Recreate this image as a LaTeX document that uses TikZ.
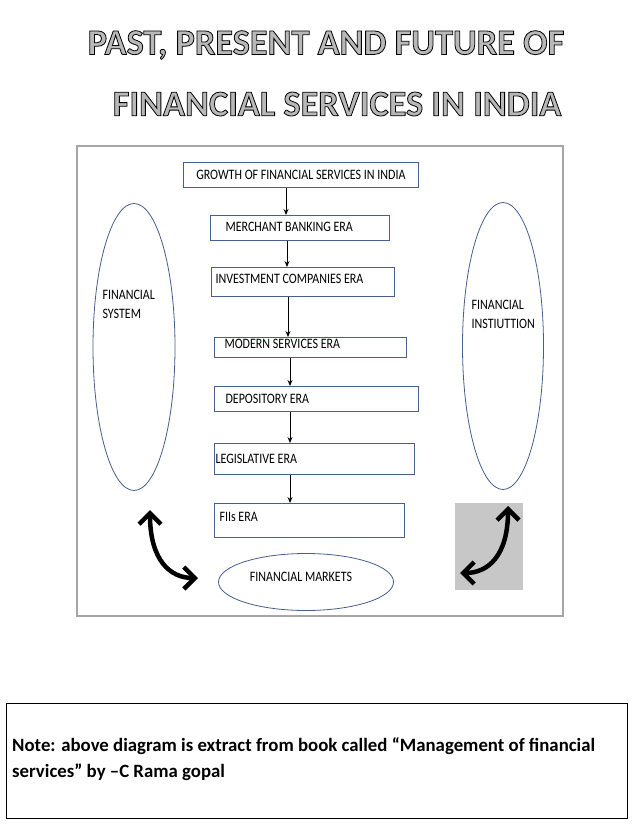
\documentclass[tikz,border=0pt]{standalone}
\usepackage{fontspec}
\setmainfont{Carlito}
\usetikzlibrary{shapes.geometric,arrows.meta}
\definecolor{edge}{RGB}{70,95,140}
\newcommand{\outl}[1]{\special{pdf:code q 2 Tr 0.8 w 0 G 0.72 g}#1\special{pdf:code Q}}
\begin{document}
\begin{tikzpicture}[x=1pt,y=-1pt,
  era/.style={draw=edge, line width=0.8pt, anchor=north west, inner sep=0pt},
  lab/.style={font=\fontsize{12}{14}\selectfont, yscale=1.2},
  oval/.style={draw=edge, line width=0.8pt, ellipse, inner sep=0pt},
  flow/.style={-{Stealth[length=6pt,width=5pt]}, line width=0.9pt},
  big/.style={{Straight Barb[length=11pt,width=22pt,line width=4.5pt]}-{Straight Barb[length=11pt,width=22pt,line width=4.5pt]}, line width=4.5pt}]
\useasboundingbox (0,0) rectangle (638,826);
\fill[white] (0,0) rectangle (638,826);
\node (t1) at (326,45) {\fontsize{36.3}{40}\selectfont\bfseries\outl{PAST, PRESENT AND FUTURE OF}};
\node (t2) at (337,104) {\fontsize{36.3}{40}\selectfont\bfseries\outl{FINANCIAL SERVICES IN INDIA}};
\draw[black!35, line width=1.5pt] (77,146) rectangle (563,616);
\node[era, minimum width=235, minimum height=25] (b1) at (183,162) {};
\node[lab] (l1) at (b1.center) {GROWTH OF FINANCIAL SERVICES IN INDIA};
\node[era, minimum width=179, minimum height=25] (b2) at (210,215) {};
\node[lab, anchor=west] (l2) at (222,227) {MERCHANT BANKING ERA};
\node[era, minimum width=183, minimum height=29] (b3) at (211,267) {};
\node[lab, anchor=west] (l3) at (212,279) {INVESTMENT COMPANIES ERA};
\node[era, minimum width=192, minimum height=20] (b4) at (214,337) {};
\node[lab, anchor=west] (l4) at (221,344) {MODERN SERVICES ERA};
\node[era, minimum width=204, minimum height=25] (b5) at (214,386) {};
\node[lab, anchor=west] (l5) at (222,399) {DEPOSITORY ERA};
\node[era, minimum width=200, minimum height=31] (b6) at (214,443) {};
\node[lab, anchor=west] (l6) at (212,459) {LEGISLATIVE ERA};
\node[era, minimum width=190, minimum height=34] (b7) at (214,503) {};
\node[lab, anchor=west] (l7) at (216,517) {FIIs ERA};
\draw[flow] (b1.south -| 286,0) -- (b2.north -| 286,0);
\draw[flow] (b2.south -| 287,0) -- (b3.north -| 287,0);
\draw[flow] (b3.south -| 288,0) -- (b4.north -| 288,0);
\draw[flow] (b4.south -| 290,0) -- (b5.north -| 290,0);
\draw[flow] (b5.south -| 290,0) -- (b6.north -| 290,0);
\draw[flow] (b6.south -| 290,0) -- (b7.north -| 290,0);
\node[oval, minimum width=82, minimum height=287] (fs) at (134,347) {};
\node[lab, align=left, anchor=north west, font=\fontsize{12}{16}\selectfont] (fsl) at (99,286) {FINANCIAL\\SYSTEM};
\node[oval, minimum width=81, minimum height=287] (fi) at (503,346) {};
\node[lab, align=left, anchor=north west, font=\fontsize{12}{16}\selectfont] (fil) at (468,296) {FINANCIAL\\INSTIUTTION};
\node[oval, minimum width=175, minimum height=57] (fm) at (306,582) {};
\node[lab] (fml) at (301,577) {FINANCIAL MARKETS};
\fill[black!22] (455,503) rectangle (523,590);
\coordinate (a1) at (150,510);
\coordinate (a2) at (198,578);
\coordinate (a3) at (508,506);
\coordinate (a4) at (460,573);
\draw[big] (a1) .. controls (150,560) and (170,578) .. (a2);
\draw[big] (a3) .. controls (508,556) and (488,573) .. (a4);
\draw[black, line width=0.7pt] (6,703) rectangle (627,818);
\node[anchor=north west, align=left, font=\fontsize{18.8}{26}\selectfont\bfseries, inner sep=0pt] (note) at (12,737) {Note: above diagram is extract from book called “Management of financial\\services” by –C Rama gopal};
\end{tikzpicture}
\end{document}
